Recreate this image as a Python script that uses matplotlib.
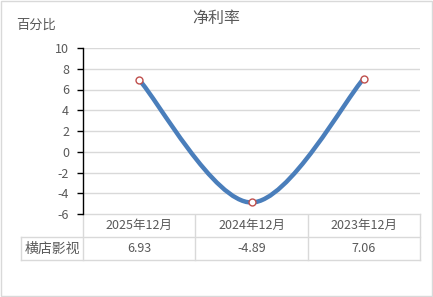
import numpy as np
import matplotlib
matplotlib.use("Agg")
import matplotlib.pyplot as plt
from matplotlib.path import Path
from matplotlib.patches import PathPatch, Rectangle

plt.rcParams['font.family'] = ['Noto Sans CJK SC', 'DejaVu Sans']
plt.rcParams['axes.unicode_minus'] = False

TITLE = "净利率"
YLABEL = "百分比"
SERIES = "横店影视"
periods = ["2025年12月", "2024年12月", "2023年12月"]
values = [6.93, -4.89, 7.06]
yticks = [-6, -4, -2, 0, 2, 4, 6, 8, 10]

W, H = 433, 297
TXT = "#595959"
GRID = "#D9D9D9"
LINE = "#4A7EBB"

fig = plt.figure(figsize=(W / 100, H / 100), dpi=100)
L, R, T, B = 83, 420, 48, 214          # plot area in pixels
ax = fig.add_axes([L / W, 1 - B / H, (R - L) / W, (B - T) / H])

x = np.arange(len(values))
ax.set_xlim(-0.5, len(values) - 0.5)
ax.set_ylim(yticks[0], yticks[-1])
ax.set_yticks(yticks)
ax.set_xticks([])
ax.grid(axis="y", color=GRID, lw=1)
ax.set_axisbelow(True)
for s in ("top", "right", "bottom"):
    ax.spines[s].set_visible(False)
ax.spines["left"].set_color("black")
ax.spines["left"].set_linewidth(1)
ax.tick_params(axis="y", direction="out", length=4, width=1, color="black",
               labelcolor=TXT, labelsize=9, pad=6)

# smoothed line (Catmull-Rom style bezier, like Excel's smooth line)
pts = np.column_stack([x, values]).astype(float)
verts = [pts[0]]
codes = [Path.MOVETO]
n = len(pts)
for i in range(n - 1):
    p_prev = pts[max(i - 1, 0)]
    p0, p1 = pts[i], pts[i + 1]
    p_next = pts[min(i + 2, n - 1)]
    c1 = p0 + (p1 - p_prev) / 6
    c2 = p1 - (p_next - p0) / 6
    verts += [c1, c2, p1]
    codes += [Path.CURVE4] * 3
ax.add_patch(PathPatch(Path(verts, codes), fill=False, edgecolor=LINE, lw=3.2,
                       capstyle="round", zorder=3))
ax.plot(x, values, ls="none", marker="o", ms=5, mfc="white", mec="#C0504D",
        mew=1, zorder=4)

# overlay in pixel coordinates for title, table and border
ov = fig.add_axes([0, 0, 1, 1], zorder=-1)
ov.set_xlim(0, W)
ov.set_ylim(H, 0)
ov.axis("off")
ov.add_patch(Rectangle((0.5, 0.5), W - 1.5, H - 1.5, fill=False, ec=GRID, lw=1))
ov.text(216, 18, TITLE, ha="center", va="center", fontsize=11.5, color=TXT)
ov.text(36, 25, YLABEL, ha="center", va="center", fontsize=9.5, color=TXT)

row_h = 23
lab_l = 21
cols = np.linspace(L, R, len(periods) + 1)
y0, y1, y2 = B, B + row_h, B + 2 * row_h
ov.plot([L, R], [y0, y0], color=GRID, lw=1)
ov.plot([lab_l, R], [y1, y1], color=GRID, lw=1)
ov.plot([lab_l, R], [y2, y2], color=GRID, lw=1)
for cx in cols:
    ov.plot([cx, cx], [y0, y2], color=GRID, lw=1)
ov.plot([lab_l, lab_l], [y1, y2], color=GRID, lw=1)
ov.text((lab_l + L) / 2, (y1 + y2) / 2, SERIES, ha="center", va="center",
        fontsize=10, color=TXT)
for i, (p, v) in enumerate(zip(periods, values)):
    cx = (cols[i] + cols[i + 1]) / 2
    ov.text(cx, (y0 + y1) / 2, p, ha="center", va="center", fontsize=9, color=TXT)
    ov.text(cx, (y1 + y2) / 2, f"{v:.2f}", ha="center", va="center", fontsize=9,
            color=TXT)

fig.savefig("out.png", dpi=100, facecolor="white")
